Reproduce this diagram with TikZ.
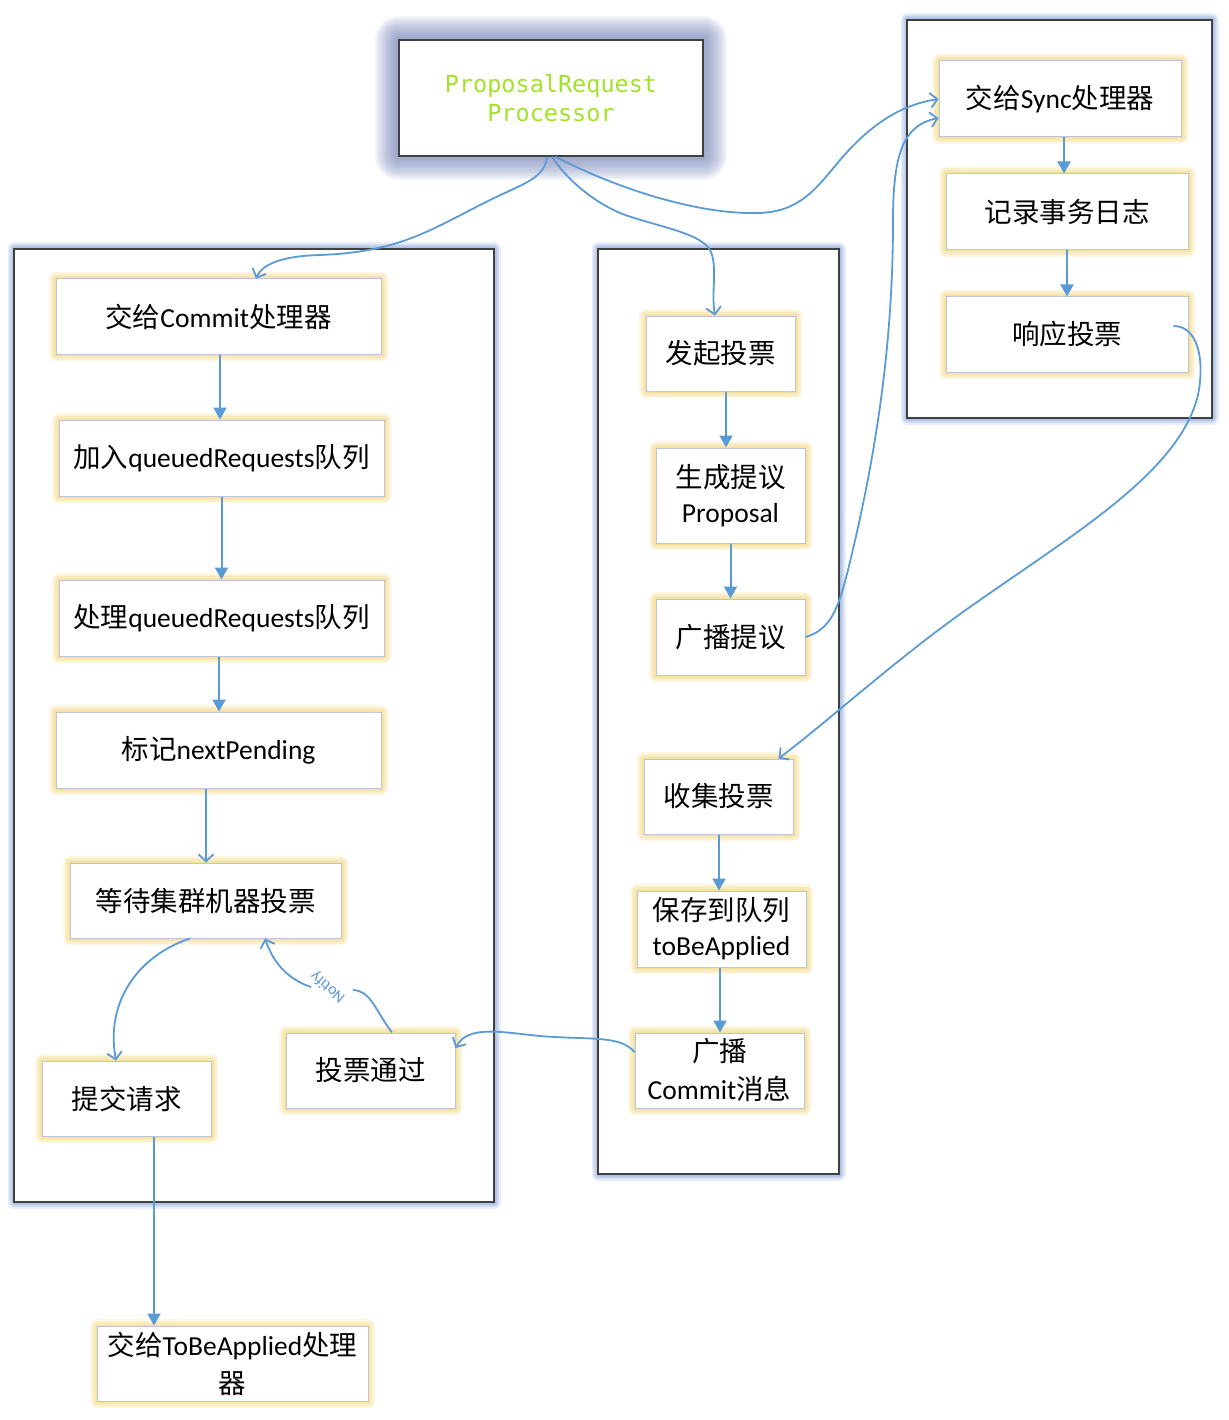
\documentclass[tikz,border=0pt]{standalone}
\usepackage{fontspec}
\setmainfont{Carlito}
\newfontfamily\cjk{Noto Sans CJK SC}
\newfontfamily\monof{DejaVu Sans Mono}
\usetikzlibrary{arrows.meta,calc}
\newcommand\zh[1]{{\cjk #1}}
\definecolor{linec}{HTML}{5B9BD5}
\definecolor{boxline}{HTML}{BCC6D6}
\definecolor{glowy}{HTML}{F4D36A}
\definecolor{glowb}{HTML}{7A99D8}
\definecolor{glowp}{HTML}{7080B4}
\definecolor{contline}{HTML}{404040}
\definecolor{greentext}{HTML}{A2E22A}
\tikzset{
  gl/.style 2 args={preaction={draw=#1,line width=#2,opacity=0.09,line join=round}},
  yglow/.style={gl={glowy}{14pt},gl={glowy}{11pt},gl={glowy}{8pt},gl={glowy}{5pt},gl={glowy}{3pt}},
  bglow/.style={gl={glowb}{13pt},gl={glowb}{10pt},gl={glowb}{7pt},gl={glowb}{5pt},gl={glowb}{3pt}},
  pglow/.style={gl={glowp}{48pt},gl={glowp}{44pt},gl={glowp}{40pt},gl={glowp}{36pt},gl={glowp}{32pt},
                gl={glowp}{28pt},gl={glowp}{24pt},gl={glowp}{20pt},gl={glowp}{16pt},gl={glowp}{12pt},
                gl={glowp}{8pt},gl={glowp}{4pt}},
  box/.style={yglow, yglow, draw=boxline, fill=white, line width=1pt, inner sep=0pt,
              align=center, font=\fontsize{27.5}{36}\selectfont},
  cont/.style={bglow, bglow, draw=contline, fill=white, line width=1.5pt},
  arr/.style={draw=linec, line width=2pt, -{Triangle[length=12pt,width=13pt]}},
  carr/.style={draw=linec, line width=1.8pt, -{Straight Barb[length=7pt,width=15pt]}},
  cline/.style={draw=linec, line width=1.8pt},
}
\begin{document}
\begin{tikzpicture}[x=1pt,y=-1pt]
\useasboundingbox (0,0) rectangle (1228,1420);
% containers
\draw[cont] (14,249) rectangle (494,1202);
\draw[cont] (598,249) rectangle (839,1174);
\draw[cont] (907,20) rectangle (1212,418);
% top processor
\node[pglow, draw=contline, fill=white, line width=1.2pt, minimum width=304pt, minimum height=116pt,
      align=center, text=greentext, font=\monof\fontsize{23.5}{28.5}\selectfont] (P) at (551,98)
      {ProposalRequest\\Processor};
% left column
\node[box, minimum width=325pt, minimum height=75pt] (L1) at (218.5,316.5) {\zh{交给}Commit\zh{处理器}};
\node[box, minimum width=325pt, minimum height=76pt] (L2) at (221.5,458) {\zh{加入}queuedRequests\zh{队列}};
\node[box, minimum width=325pt, minimum height=76pt] (L3) at (221.5,618) {\zh{处理}queuedRequests\zh{队列}};
\node[box, minimum width=325pt, minimum height=76pt] (L4) at (218.5,750) {\zh{标记}nextPending};
\node[box, minimum width=271pt, minimum height=75pt] (L5) at (205.5,900.5) {\zh{等待集群机器投票}};
\node[box, minimum width=169pt, minimum height=75pt] (L6) at (126.5,1098.5) {\zh{提交请求}};
\node[box, minimum width=169pt, minimum height=75pt] (L7) at (370.5,1070.5) {\zh{投票通过}};
\node[box, minimum width=271pt, minimum height=75pt, font=\fontsize{27.5}{38}\selectfont] (B) at (232.5,1363.5) {\zh{交给}ToBeApplied\zh{处理}\\\zh{器}};
% middle column
\node[box, minimum width=149pt, minimum height=75pt] (M1) at (720.5,353.5) {\zh{发起投票}};
\node[box, minimum width=149pt, minimum height=95pt, font=\fontsize{27.5}{35}\selectfont] (M2) at (730.5,495.5) {\zh{生成提议}\\Proposal};
\node[box, minimum width=149pt, minimum height=76pt] (M3) at (730.5,637) {\zh{广播提议}};
\node[box, minimum width=149pt, minimum height=75pt] (M4) at (718.5,796.5) {\zh{收集投票}};
\node[box, minimum width=169pt, minimum height=76pt, font=\fontsize{27.5}{35}\selectfont] (M5) at (721.5,929) {\zh{保存到队列}\\toBeApplied};
\node[box, minimum width=169pt, minimum height=75pt, font=\fontsize{27.5}{38}\selectfont] (M6) at (719.5,1070.5) {\zh{广播}\\Commit\zh{消息}};
% right column
\node[box, minimum width=242pt, minimum height=76pt] (R1) at (1060,99) {\zh{交给}Sync\zh{处理器}};
\node[box, minimum width=242pt, minimum height=76pt] (R2) at (1067,212) {\zh{记录事务日志}};
\node[box, minimum width=242pt, minimum height=75pt] (R3) at (1067,334.5) {\zh{响应投票}};
% straight arrows
\draw[arr] ($(L1.south)+(1.5,0)$) -- ($(L2.north)+(-1.5,0)$);
\draw[arr] (L2.south) -- (L3.north);
\draw[arr] ($(L3.south)+(-2.5,0)$) -- ($(L4.north)+(0.5,0)$);
\draw[carr] ($(L4.south)+(-12.5,0)$) -- ($(L5.north)+(0.5,0)$);
\draw[arr] ($(L6.south)+(27.5,0)$) -- ($(B.north)+(-78.5,0)$);
\draw[arr] ($(M1.south)+(5.5,0)$) -- ($(M2.north)+(-4.5,0)$);
\draw[arr] (M2.south) -- (M3.north);
\draw[arr] ($(M4.south)+(0.5,0)$) -- ($(M5.north)+(-2.5,0)$);
\draw[arr] ($(M5.south)+(-1.5,0)$) -- ($(M6.north)+(0.5,0)$);
\draw[arr] ($(R1.south)+(4,0)$) -- ($(R2.north)+(-3,0)$);
\draw[arr] (R2.south) -- (R3.north);
% curved connectors
\draw[carr] ($(P.south)+(-4,0)$) .. controls (545,178) and (525,183) .. (490,200)
   .. controls (430,230) and (400,252) .. (320,255)
   .. controls (280,256) and (262,265) .. ($(L1.north)+(37.5,0)$);
\draw[carr] ($(P.south)+(1,0)$) .. controls (565,177) and (590,200) .. (620,213)
   .. controls (650,225) and (700,232) .. (710,250)
   .. controls (718,265) and (711,292) .. ($(M1.north)+(-5.5,0)$);
\draw[carr] ($(P.south)+(4,0)$) .. controls (620,190) and (700,215) .. (760,213)
   .. controls (800,211) and (815,190) .. (840,160)
   .. controls (870,125) and (900,105) .. (R1.west);
\draw[carr] (M3.east) .. controls (830,630) and (838,610) .. (848,570)
   .. controls (880,440) and (893,330) .. (893,220)
   .. controls (893,150) and (905,125) .. ($(R1.west)+(0,19)$);
\draw[carr] ($(R3.east)+(-15,-8.5)$) .. controls (1198,326) and (1205,360) .. (1198,395)
   .. controls (1180,470) and (1080,530) .. (980,600)
   .. controls (900,655) and (830,720) .. ($(M4.north east)+(-15,0)$);
\draw[carr] ($(M6.west)+(0,-18.5)$) .. controls (620,1035) and (590,1040) .. (540,1036)
   .. controls (500,1032) and (468,1025) .. ($(L7.east)+(0,-22.5)$);
\draw[carr] ($(L5.south)+(-15.5,0)$) .. controls (140,955) and (105,1000) .. ($(L6.north)+(-10.5,0)$);
% notify connector
\coordinate (n1) at (353,990);
\coordinate (n2) at (311,987);
\draw[cline] ($(L7.north)+(21.5,0)$) .. controls (375,1010) and (371,991) .. (n1);
\draw[carr] (n2) .. controls (290,980) and (274,965) .. ($(L5.south)+(59.5,0)$);
\node[text=linec, font=\fontsize{16}{18}\selectfont, rotate=139, inner sep=0pt] (nt) at (328,987) {Notify};
\end{tikzpicture}
\end{document}
